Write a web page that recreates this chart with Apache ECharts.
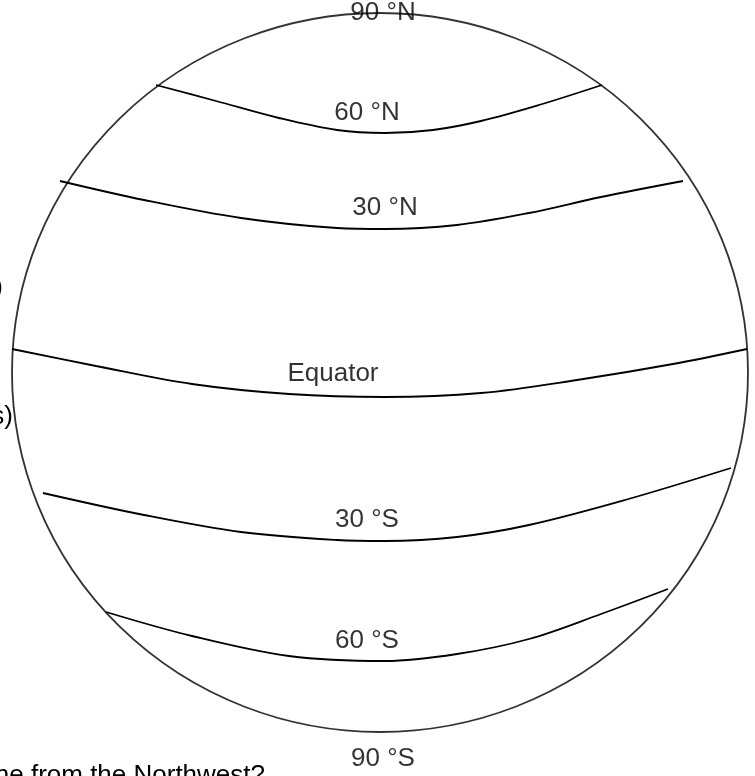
<!DOCTYPE html>
<html>
<head>
<meta charset="utf-8">
<script src="https://cdn.jsdelivr.net/npm/echarts@6/dist/echarts.min.js"></script>
<style>
  html, body { margin: 0; padding: 0; background: #fff; }
  #chart { width: 755px; height: 776px; }
</style>
</head>
<body>
<div id="chart"></div>
<script>
// latitude lines (x, y in picture units, y grows downward)
var lat60N = [[156,85],[216,101],[279,118],[337,130],[385,133],[433,130],[481,121],[539,105],[602,85]];
var lat30N = [[60,181],[144,200],[241,218],[337,228],[385,229],[457,225],[529,213],[601,197],[683,181]];
var equator = [[12,349],[96,366],[192,384],[289,394],[385,397],[481,393],[577,380],[673,364],[747,349]];
var lat30S = [[43,493],[144,515],[241,532],[337,540],[385,541],[457,537],[529,525],[625,500],[731,468]];
var lat60S = [[106,612],[192,636],[289,656],[385,661],[457,654],[529,639],[601,614],[668,589]];

// globe centre
var globeCentre = [[380,372.5]];

// labels
var labelNames = ["90 °N","60 °N","30 °N","Equator","30 °S","60 °S","90 °S"];
var labelX = [383,367,385,333,367,367,383];
var labelY = [13,113,208,374,520,641,759];

var chart = echarts.init(document.getElementById("chart"));

var font = "26px Liberation Sans, Arial, sans-serif";
var lineStyle = {color:"#000", width:1.8};
var makeLine = function(pts){
    return {
        type:"line",
        data:pts,
        smooth:0.35,
        symbol:"none",
        lineStyle:lineStyle,
        silent:true
    };
};

var labelData = labelNames.map(function(n,i){
    return {name:n, value:[labelX[i],labelY[i]]};
});

var option = {
    animation:false,
    backgroundColor:"#fff",
    grid:{left:0,right:0,top:0,bottom:0},
    xAxis:{type:"value",min:0,max:755,show:false},
    yAxis:{type:"value",min:0,max:776,inverse:true,show:false},
    series:[
        {
            type:"scatter",
            data:globeCentre,
            symbol:"circle",
            symbolSize:[736,719],
            itemStyle:{color:"transparent",borderColor:"#000",borderWidth:1.8},
            silent:true
        },
        makeLine(lat60N),
        makeLine(lat30N),
        makeLine(equator),
        makeLine(lat30S),
        makeLine(lat60S),
        {
            type:"scatter",
            data:labelData,
            symbolSize:0,
            silent:true,
            label:{
                show:true,
                position:"inside",
                formatter:"{b}",
                color:"#000",
                fontFamily:"Liberation Sans, Arial, sans-serif",
                fontSize:26
            }
        }
    ],
    graphic:[
        {type:"text",x:3,y:288,style:{text:")",fill:"#000",font:font,textAlign:"right",textVerticalAlign:"middle"}},
        {type:"text",x:13,y:417,style:{text:"s)",fill:"#000",font:font,textAlign:"right",textVerticalAlign:"middle"}},
        {type:"text",x:265,y:763,style:{text:"ne from the Northwest?",fill:"#000",font:font,textAlign:"right",textVerticalAlign:"top"}}
    ]
};

chart.setOption(option);
</script>
</body>
</html>
